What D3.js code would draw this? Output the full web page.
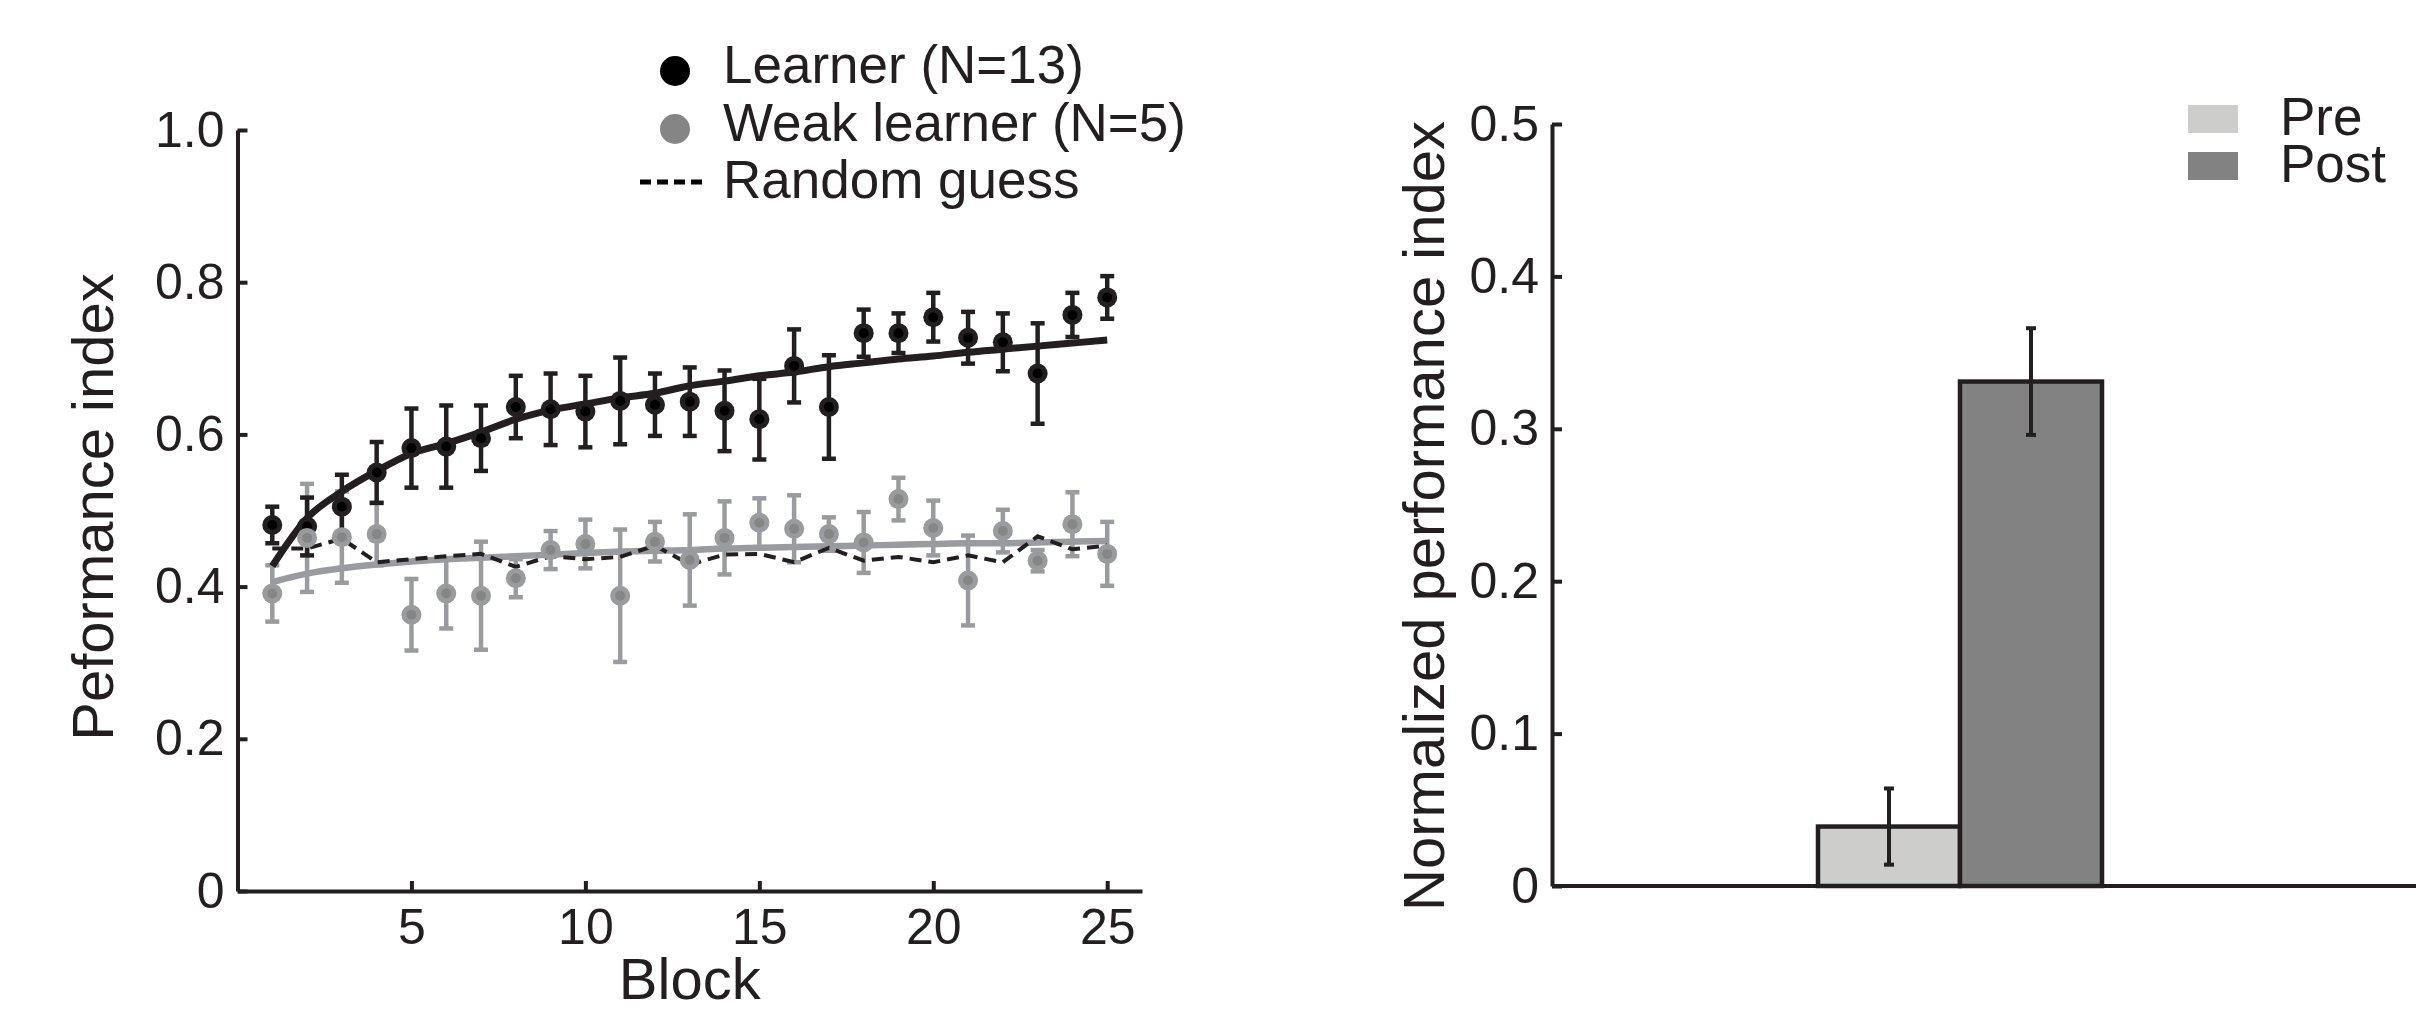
<!DOCTYPE html>
<html><head><meta charset="utf-8">
<script src="https://cdn.jsdelivr.net/npm/d3@7"></script>
<style>
html,body{margin:0;padding:0;background:#fff;}
svg{display:block;}
text{font-family:"Liberation Sans",Arial,Helvetica,sans-serif;fill:#231f20;}
</style>
</head><body>
<svg id="chart" width="2416" height="1014"></svg>
<script>
// ---------- data ----------
const blocks = [1,2,3,4,5,6,7,8,9,10,11,12,13,14,15,16,17,18,19,20,21,22,23,24,25];
const learnerMean = [0.481,0.479,0.505,0.550,0.582,0.584,0.595,0.636,0.633,0.630,0.644,0.639,0.643,0.631,0.620,0.690,0.636,0.733,0.733,0.754,0.727,0.721,0.680,0.757,0.780];
const learnerErr  = [0.024,0.038,0.042,0.040,0.052,0.054,0.043,0.041,0.047,0.047,0.057,0.041,0.045,0.053,0.053,0.048,0.068,0.031,0.026,0.032,0.034,0.038,0.066,0.029,0.028];
const weakMean    = [0.391,0.464,0.465,0.469,0.363,0.391,0.388,0.411,0.448,0.456,0.388,0.459,0.435,0.464,0.484,0.476,0.469,0.458,0.515,0.477,0.408,0.473,0.434,0.482,0.443];
const weakErr     = [0.037,0.071,0.060,0.041,0.047,0.046,0.071,0.025,0.025,0.032,0.087,0.026,0.060,0.048,0.032,0.044,0.022,0.040,0.028,0.036,0.059,0.028,0.014,0.042,0.042];
const randomGuess = [0.450,0.450,0.463,0.432,0.436,0.440,0.443,0.426,0.440,0.436,0.439,0.454,0.429,0.442,0.443,0.432,0.451,0.434,0.439,0.432,0.441,0.432,0.466,0.449,0.454];
const learnerFit  = [0.427,0.490,0.525,0.552,0.575,0.588,0.603,0.620,0.632,0.640,0.648,0.654,0.664,0.670,0.677,0.682,0.689,0.694,0.699,0.703,0.708,0.712,0.716,0.720,0.724];
const weakFit     = [0.406,0.417,0.424,0.429,0.433,0.436,0.438,0.440,0.442,0.444,0.446,0.447,0.448,0.450,0.451,0.452,0.453,0.454,0.455,0.456,0.457,0.457,0.458,0.459,0.460];
const xTicks = [5,10,15,20,25];
const yTicks = [0,0.2,0.4,0.6,0.8,1.0];
const yTickLabels = ["0","0.2","0.4","0.6","0.8","1.0"];
const legendLabels = ["Learner (N=13)","Weak learner (N=5)","Random guess"];

const conditions = ["Pre","Post"];
const barValues = [0.039,0.331];
const barErrors = [0.025,0.035];
const barTicks = [0,0.1,0.2,0.3,0.4,0.5];
const barTickLabels = ["0","0.1","0.2","0.3","0.4","0.5"];

// ---------- style ----------
const ink = "#231f20";
const grayLine = "#9a9b9e";
const grayInner = "#868686";
const barFill = {"Pre":"#cdcdcb","Post":"#828282"};
const tickFont = 50, titleFont = 58, legendFont = 53;

const svg = d3.select("#chart");

// ---------- left panel ----------
const x = d3.scaleLinear().domain([0,26]).range([237.5,1142]);
const y = d3.scaleLinear().domain([0,1]).range([891,130]);

function styleAxis(g){
  g.attr("font-family",null).attr("font-size",null);
  g.selectAll("path,line").attr("stroke",ink).attr("stroke-width",4);
  g.selectAll("text").attr("font-size",tickFont).attr("fill",ink);
}

const gx = svg.append("g").attr("transform",`translate(0,${y(0)})`)
  .call(d3.axisBottom(x).tickValues(xTicks).tickSizeInner(-10).tickSizeOuter(0).tickPadding(17));
styleAxis(gx);
const gy = svg.append("g").attr("transform",`translate(${x(0)},0)`)
  .call(d3.axisLeft(y).tickValues(yTicks).tickFormat((d,i)=>yTickLabels[i]).tickSizeInner(-10).tickSizeOuter(0).tickPadding(13));
styleAxis(gy);

svg.append("text").attr("transform","translate(113,507) rotate(-90)")
  .attr("text-anchor","middle").attr("font-size",titleFont).text("Peformance index");
svg.append("text").attr("x",(x(0)+x(26))/2).attr("y",999)
  .attr("text-anchor","middle").attr("font-size",titleFont).text("Block");

const capW = 14;
function errorBars(means, errs, color, width){
  const g = svg.append("g").attr("stroke",color).attr("stroke-width",width).attr("fill","none");
  blocks.forEach((b,i)=>{
    const lo = y(means[i]-errs[i]), hi = y(means[i]+errs[i]), cx = x(b);
    g.append("line").attr("x1",cx).attr("x2",cx).attr("y1",lo).attr("y2",hi);
    g.append("line").attr("x1",cx-capW/2).attr("x2",cx+capW/2).attr("y1",lo).attr("y2",lo);
    g.append("line").attr("x1",cx-capW/2).attr("x2",cx+capW/2).attr("y1",hi).attr("y2",hi);
  });
}
function markers(means, outer, inner){
  const g = svg.append("g");
  blocks.forEach((b,i)=>{
    g.append("circle").attr("cx",x(b)).attr("cy",y(means[i])).attr("r",10).attr("fill",outer);
    g.append("circle").attr("cx",x(b)).attr("cy",y(means[i])).attr("r",5).attr("fill",inner);
  });
}
const line = d3.line().x((d,i)=>x(blocks[i])).y(d=>y(d)).curve(d3.curveMonotoneX);

errorBars(weakMean, weakErr, grayLine, 4.5);
errorBars(learnerMean, learnerErr, ink, 4.5);
svg.append("path").datum(weakFit).attr("d",line).attr("fill","none").attr("stroke",grayLine).attr("stroke-width",6.5);
svg.append("path").datum(randomGuess).attr("d",d3.line().x((d,i)=>x(blocks[i])).y(d=>y(d)))
  .attr("fill","none").attr("stroke",ink).attr("stroke-width",4).attr("stroke-dasharray","12,7");
svg.append("path").datum(learnerFit).attr("d",line).attr("fill","none").attr("stroke",ink).attr("stroke-width",7);
markers(learnerMean, ink, "#000");
markers(weakMean, grayLine, grayInner);

// legend (left)
const lgX = 675, lgTextX = 723, lgBase = [83, 141, 198];
svg.append("circle").attr("cx",lgX).attr("cy",lgBase[0]-12).attr("r",15).attr("fill","#000");
svg.append("circle").attr("cx",lgX).attr("cy",lgBase[1]-12).attr("r",15).attr("fill","#858585");
svg.append("line").attr("x1",640).attr("x2",708).attr("y1",lgBase[2]-16).attr("y2",lgBase[2]-16)
  .attr("stroke","#000").attr("stroke-width",5).attr("stroke-dasharray","11,6");
legendLabels.forEach((t,i)=>{
  svg.append("text").attr("x",lgTextX).attr("y",lgBase[i]).attr("font-size",legendFont).text(t);
});

// ---------- right panel ----------
const yR = d3.scaleLinear().domain([0,0.5]).range([886,124]);
const xR = d3.scaleBand().domain(conditions).range([1818,2102]).padding(0);
const axisX = 1552;

const gyR = svg.append("g").attr("transform",`translate(${axisX},0)`)
  .call(d3.axisLeft(yR).tickValues(barTicks).tickFormat((d,i)=>barTickLabels[i]).tickSizeInner(-10).tickSizeOuter(0).tickPadding(13));
styleAxis(gyR);
svg.append("line").attr("x1",axisX).attr("x2",2416).attr("y1",yR(0)).attr("y2",yR(0))
  .attr("stroke",ink).attr("stroke-width",4);

svg.append("text").attr("transform","translate(1444,516) rotate(-90)")
  .attr("text-anchor","middle").attr("font-size",titleFont).text("Normalized performance index");

svg.append("g").selectAll("rect").data(conditions).join("rect")
  .attr("x",d=>xR(d)).attr("width",xR.bandwidth())
  .attr("y",(d,i)=>yR(barValues[i])).attr("height",(d,i)=>yR(0)-yR(barValues[i]))
  .attr("fill",d=>barFill[d]).attr("stroke",ink).attr("stroke-width",4.5);

const eg = svg.append("g").attr("stroke",ink).attr("stroke-width",4);
conditions.forEach((c,i)=>{
  const cx = xR(c)+xR.bandwidth()/2;
  const lo = yR(barValues[i]-barErrors[i]), hi = yR(barValues[i]+barErrors[i]);
  eg.append("line").attr("x1",cx).attr("x2",cx).attr("y1",lo).attr("y2",hi);
  eg.append("line").attr("x1",cx-5).attr("x2",cx+5).attr("y1",hi).attr("y2",hi);
  eg.append("line").attr("x1",cx-5).attr("x2",cx+5).attr("y1",lo).attr("y2",lo);
});

// legend (right)
const rlBase = [135, 182];
conditions.forEach((c,i)=>{
  svg.append("rect").attr("x",2188).attr("y",rlBase[i]-30).attr("width",50).attr("height",28).attr("fill",barFill[c]);
  svg.append("text").attr("x",2280).attr("y",rlBase[i]).attr("font-size",legendFont).text(c);
});
</script>
</body></html>
